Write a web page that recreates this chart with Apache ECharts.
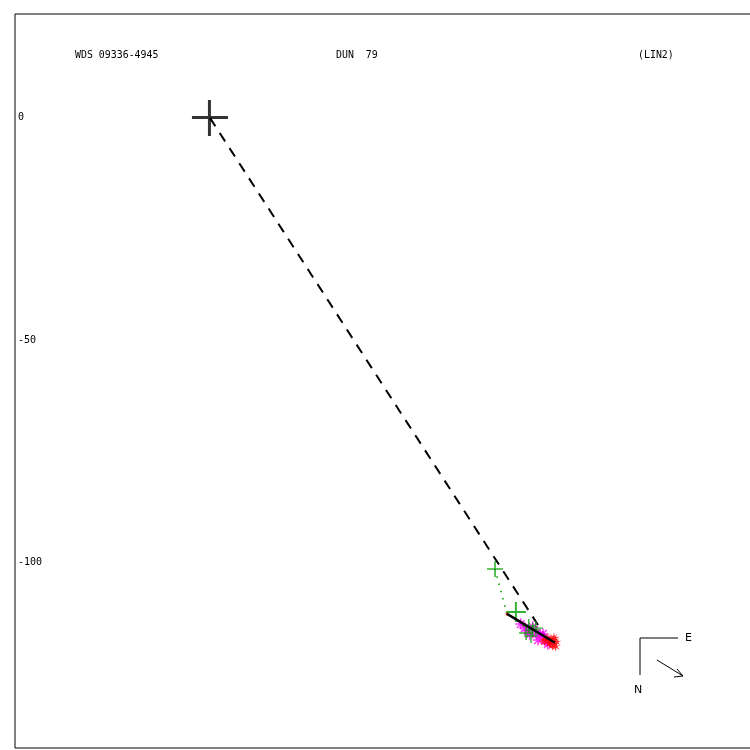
<!DOCTYPE html>
<html>
<head>
<meta charset="utf-8">
<script src="https://cdn.jsdelivr.net/npm/echarts@6/dist/echarts.min.js"></script>
<style>html,body{margin:0;padding:0;background:#fff}#c{width:750px;height:750px}</style>
</head>
<body>
<div id="c"></div>
<script>
// ---- data ----
var primary = [[0, 0]];
var yTickValues = [0, -50, -100];
var greenPlusLarge = [[68.9, -111.3]];
var greenPlusMid = [[64.2, -101.6]];
var greenPlusSmall = [[71.8, -114.4], [72.7, -115.3], [72.3, -116.7], [73.4, -114.9], [71.2, -116.0]];
var magentaPts = [[70.0, -114.0], [70.9, -114.9], [71.6, -115.5], [72.7, -114.6], [73.6, -115.9],
  [74.3, -116.6], [75.0, -116.2], [75.5, -117.6], [76.1, -118.5], [76.6, -118.0], [73.9, -117.6], [72.0, -116.3]];
var redPts = [[75.9, -117.1], [76.8, -117.6], [77.5, -117.1], [77.9, -118.0], [77.0, -118.7],
  [76.4, -118.2], [77.7, -119.0], [75.2, -117.8]];
var dashedLine = [[0, 0], [76.8, -118.7]];
var fitLine = [[66.9, -111.7], [77.7, -118.2]];
var residualLine = [[64.2, -101.6], [66.9, -111.7]];
var redDot = [[66.9, -111.7]];
var titleLeft = 'WDS 09336-4945';
var titleMid = 'DUN  79';
var titleRight = '(LIN2)';

var plusThin = 'path://M0,9H9V0H11V9H20V11H11V20H9V11H0Z';
var plusBig = 'path://M0,16H16V0H19V16H36V19H19V36H16V19H0Z';
var asterisk = 'path://M0,5L10,5M5,0L5,10M1.5,1.5L8.5,8.5M1.5,8.5L8.5,1.5';
var splat = 'path://M10,0L11.5,7L16,2L13,8.5L20,8L14,11L19,16L12.5,13L11,20L9.5,13.5L4,18L7,12L0,12L6.5,9L2,3L8,7Z';

var chart = echarts.init(document.getElementById('c'));
var mono = 'DejaVu Sans Mono';
chart.setOption({
  animation: false,
  backgroundColor: '#fff',
  grid: {left: 15, top: 14, width: 750, height: 734, outerBoundsMode: 'none', containLabel: false,
    show: true, borderColor: '#000', borderWidth: 1, backgroundColor: 'transparent'},
  xAxis: {type: 'value', min: -43.9, max: 125.0, axisLine: {show: false}, axisTick: {show: false},
    axisLabel: {show: false}, splitLine: {show: false}},
  yAxis: {type: 'value', min: -141.9, max: 23.4, axisLine: {show: false}, axisTick: {show: false},
    splitLine: {show: false},
    axisLabel: {inside: true, margin: 3, customValues: yTickValues, color: '#000', fontFamily: mono, fontSize: 10,
      padding: [4, 0, 0, 0]}},
  series: [
    {type: 'line', data: dashedLine, symbol: 'none', lineStyle: {color: '#000', width: 2, type: [10, 8]}, z: 2},
    {type: 'line', data: residualLine, symbol: 'none', lineStyle: {color: '#00a000', width: 1.5, type: [1.5, 6]}, z: 2},
    {type: 'scatter', data: magentaPts, symbol: asterisk, symbolSize: 11,
      itemStyle: {color: 'transparent', borderColor: '#ff00ff', borderWidth: 1.5}, z: 3},
    {type: 'scatter', data: redPts, symbol: splat, symbolSize: 11, itemStyle: {color: '#ff0000'}, z: 4},
    {type: 'scatter', data: greenPlusSmall, symbol: plusThin, symbolSize: 14, itemStyle: {color: '#00a000'}, z: 5},
    {type: 'scatter', data: greenPlusMid, symbol: plusThin, symbolSize: 16, itemStyle: {color: '#00a000'}, z: 5},
    {type: 'scatter', data: greenPlusLarge, symbol: plusThin, symbolSize: 20, itemStyle: {color: '#00a000'}, z: 5},
    {type: 'scatter', data: redDot, symbol: 'circle', symbolSize: 3, itemStyle: {color: '#ff0000'}, z: 5},
    {type: 'line', data: fitLine, symbol: 'none', lineStyle: {color: '#000', width: 2.5}, z: 6},
    {type: 'scatter', data: primary, symbol: plusBig, symbolSize: 36, itemStyle: {color: '#000'}, z: 6}
  ],
  graphic: [
    {type: 'text', left: 75, top: 50, scaleX: 0.9, style: {text: titleLeft, font: '11px "DejaVu Sans Mono"', fill: '#000'}},
    {type: 'text', left: 336, top: 50, scaleX: 0.9, style: {text: titleMid, font: '11px "DejaVu Sans Mono"', fill: '#000'}},
    {type: 'text', left: 638, top: 50, scaleX: 0.9, style: {text: titleRight, font: '11px "DejaVu Sans Mono"', fill: '#000'}},
    {type: 'polyline', shape: {points: [[640, 675], [640, 638], [678, 638]]}, style: {stroke: '#000', lineWidth: 1, fill: null}},
    {type: 'text', left: 685, top: 633, style: {text: 'E', font: '11px "DejaVu Sans"', fill: '#000'}},
    {type: 'text', left: 634, top: 685, style: {text: 'N', font: '11px "DejaVu Sans"', fill: '#000'}},
    {type: 'polyline', shape: {points: [[657, 660], [683, 676]]}, style: {stroke: '#000', lineWidth: 1, fill: null}},
    {type: 'polyline', shape: {points: [[677, 669], [683, 676], [674, 677]]}, style: {stroke: '#000', lineWidth: 1, fill: null}}
  ]
});
</script>
</body>
</html>
